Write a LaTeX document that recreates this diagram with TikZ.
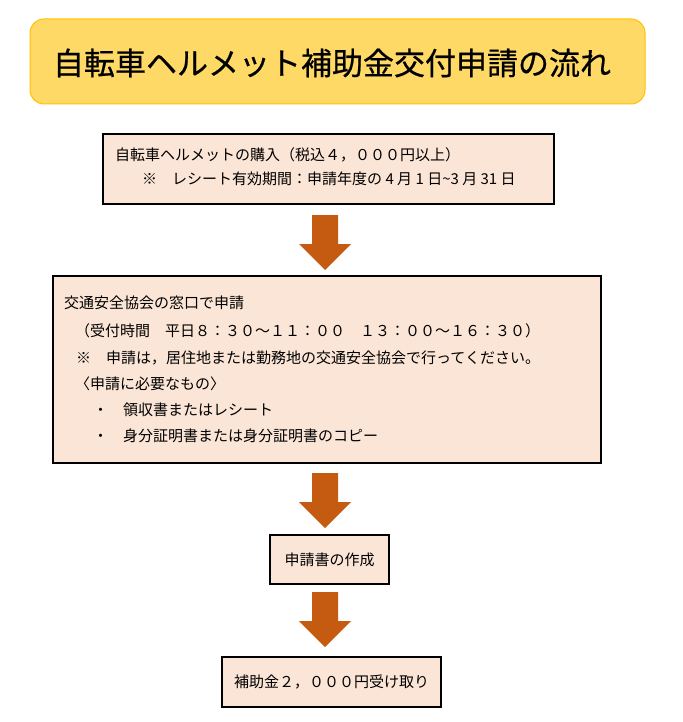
\documentclass[tikz,border=0pt]{standalone}
\usepackage{fontspec}
\setmainfont{Noto Sans CJK JP}
\newfontfamily\titlefont[FakeBold=0.6]{Noto Sans CJK JP}

\definecolor{titlefill}{HTML}{FFD966}
\definecolor{titleline}{HTML}{FFC000}
\definecolor{boxfill}{HTML}{FBE5D6}
\definecolor{arrowcol}{HTML}{C55A11}

\tikzset{
  titlebox/.style={draw=titleline, line width=1pt, fill=titlefill, rounded corners=14pt, inner sep=0pt},
  flowbox/.style={draw=black, line width=1.2pt, fill=boxfill, inner sep=0pt},
  txt/.style={anchor=west, inner sep=0pt, font=\fontsize{15}{18}\selectfont},
}

% block arrow pointing down, #1 = middle of its top edge
\newcommand{\flowarrow}[1]{%
  \fill[arrowcol] (#1) ++(-13,0) -- ++(26,0) -- ++(0,29) -- ++(13,0)
    -- ++(-26,26) -- ++(-26,-26) -- ++(13,0) -- cycle;}

\begin{document}
\begin{tikzpicture}[x=1pt,y=-1pt]
    \useasboundingbox (0,0) rectangle (682,722);
    %title
    \node[titlebox, minimum width=615pt, minimum height=85pt] (title) at (337.5,61.5) {};
    \node[inner sep=0pt, font=\titlefont\fontsize{31}{36}\selectfont] (titletext) at (332,63) {自転車ヘルメット補助金交付申請の流れ};
    %boxes
    \node[flowbox, minimum width=451pt, minimum height=70pt] (buy) at (328.5,169) {};
    \node[flowbox, minimum width=548pt, minimum height=187pt] (apply) at (327,369.5) {};
    \node[flowbox, minimum width=119pt, minimum height=49pt] (form) at (329.5,559.5) {};
    \node[flowbox, minimum width=219pt, minimum height=50pt] (receive) at (331.5,682) {};
    %arrows
    \coordinate (arr1) at (325,215);
    \coordinate (arr2) at (325,473);
    \coordinate (arr3) at (325,592);
    \flowarrow{arr1}
    \flowarrow{arr2}
    \flowarrow{arr3}
    %texts
    \node[txt] (buy1) at (115,155) {自転車ヘルメットの購入（税込４，０００円以上）};
    \node[txt] (buy2) at (142,179) {※　レシート有効期間：申請年度の 4 月 1 日\textasciitilde 3 月 31 日};
    \node[txt] (apply1) at (64,303) {交通安全協会の窓口で申請};
    \node[txt] (apply2) at (75,331) {（受付時間　平日８：３０～１１：００　１３：００～１６：３０）};
    \node[txt] (apply3) at (76,358) {※　申請は，居住地または勤務地の交通安全協会で行ってください。};
    \node[txt] (apply4) at (75,384) {〈申請に必要なもの〉};
    \node[txt] (apply5) at (93,410) {・　領収書またはレシート};
    \node[txt] (apply6) at (93,436) {・　身分証明書または身分証明書のコピー};
    \node[txt, anchor=center] (formtext) at (form) {申請書の作成};
    \node[txt, anchor=center] (receivetext) at (receive) {補助金２，０００円受け取り};
\end{tikzpicture}
\end{document}
